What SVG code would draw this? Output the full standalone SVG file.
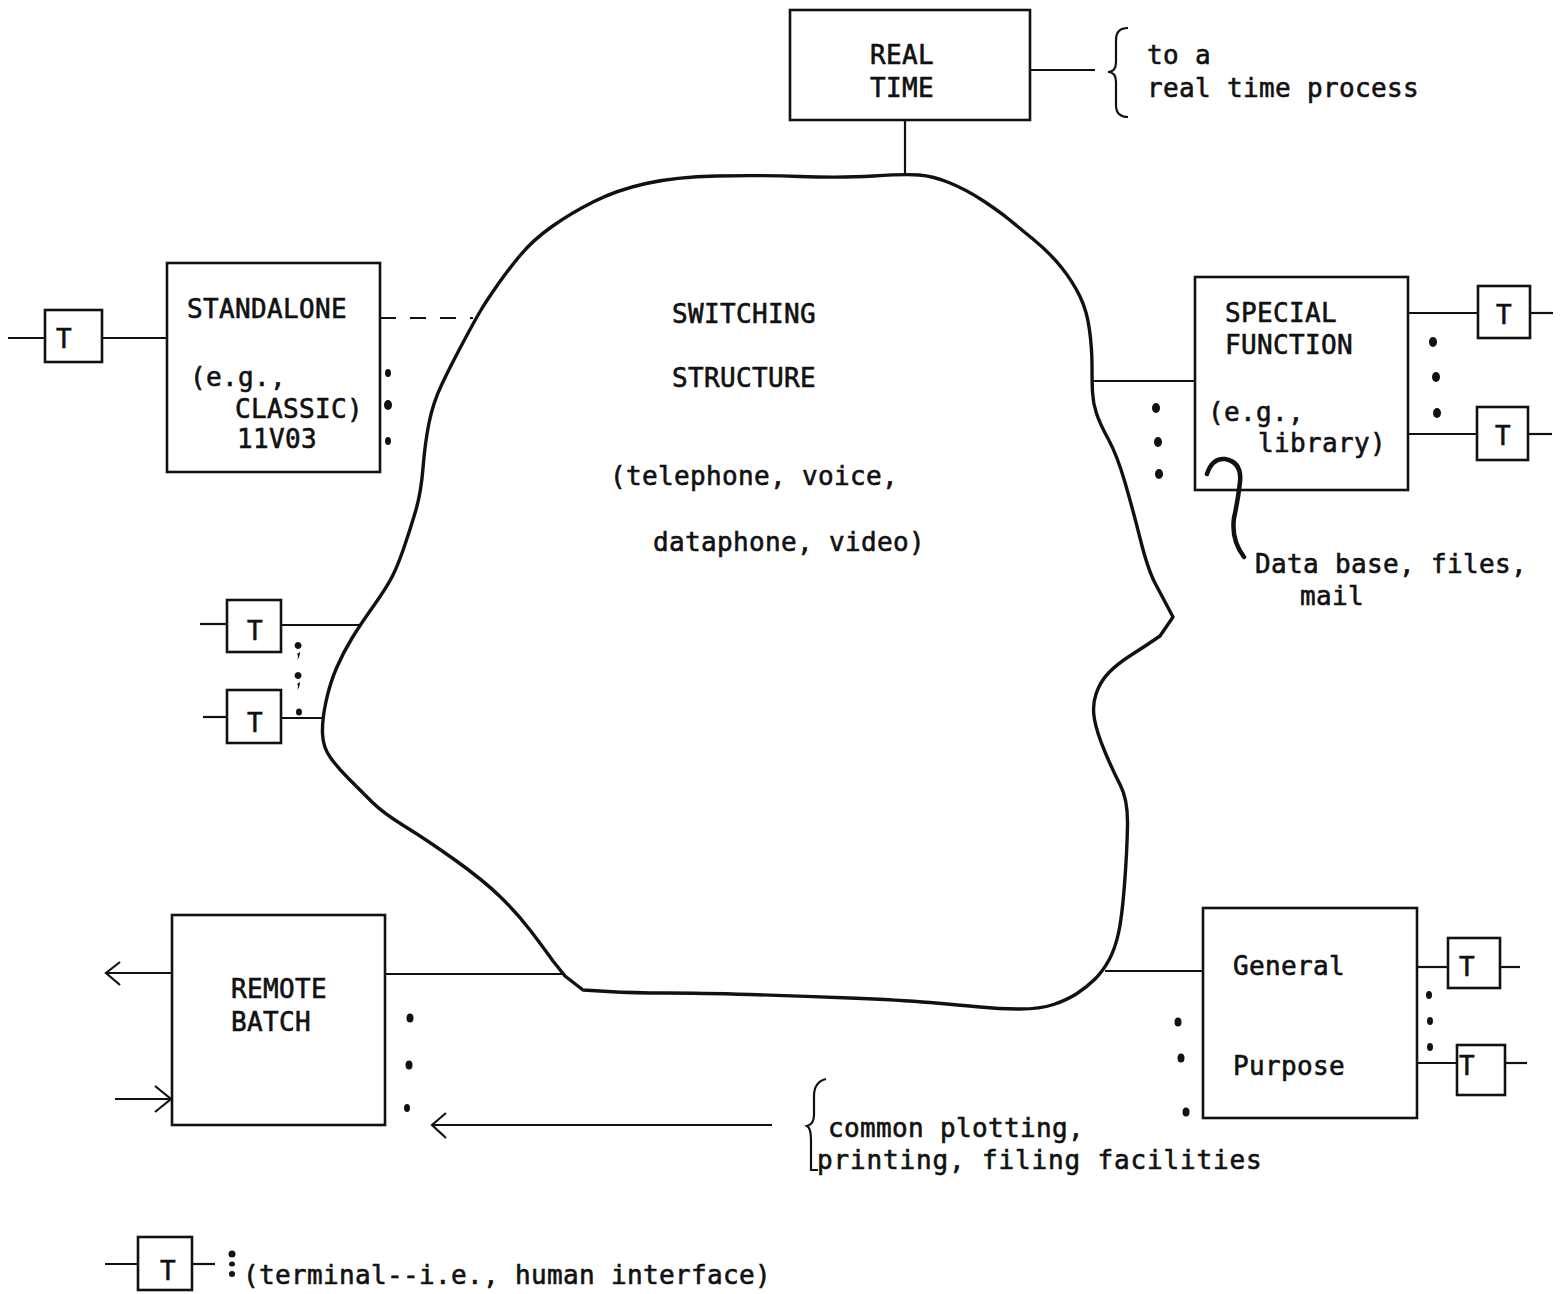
<svg xmlns="http://www.w3.org/2000/svg" width="1568" height="1294" viewBox="0 0 1568 1294">
<style>
.t{font-family:"DejaVu Sans Mono","Liberation Mono",monospace;font-size:26px;letter-spacing:0.35px;fill:#111;stroke:#111;stroke-width:0.6}
.tc{text-anchor:middle}
.box{fill:none;stroke:#111;stroke-width:2.6}
.ln{fill:none;stroke:#111;stroke-width:2.2}
.cl{fill:none;stroke:#111;stroke-width:3.4;stroke-linejoin:round;stroke-linecap:round}
.dot{fill:#111}
</style>
<rect width="1568" height="1294" fill="#fff"/>

<g id="switching-structure">
<path class="cl" d="M873.5,176 Q905,174 919,175 Q933,176 950,183 Q967,190 983.5,201 Q1000,212 1008.5,219 Q1017,226 1033.5,239.5 Q1050,253 1061.5,267.5 Q1073,282 1080,296.5 Q1087,311 1089.5,330 Q1092,349 1092,365 Q1092,381 1092.5,392 Q1093,403 1096.5,413.5 Q1100,424 1108.5,439.5 Q1117,455 1125,482.5 Q1133,510 1140.5,540 Q1148,570 1155.5,584 Q1163,598 1168,607.5 L1173,617 L1160,636 Q1147,645 1132,654.5 Q1117,664 1108.5,673 Q1100,682 1096,694 Q1092,706 1094.5,719.5 Q1097,733 1105,752 Q1113,771 1120.5,785.5 Q1128,800 1127.5,826 Q1127,852 1124.5,884.5 Q1122,917 1118.5,933 Q1115,949 1109,960 Q1103,971 1095,979 Q1087,987 1077,993.5 Q1067,1000 1053.5,1004.5 Q1040,1009 1020,1009 Q1000,1009 980,1007 Q960,1005 930,1002.5 Q900,1000 850,998 Q800,996 750,994.5 Q700,993 666.5,993 Q633,993 608,991.5 L583,990 L565,976 L553,961 Q543,947 530,930 Q517,913 500,896.5 Q483,880 455,860 Q427,840 405,826.5 Q383,813 371.5,801.5 Q360,790 348.5,778.5 Q337,767 330,757 Q323,747 322.5,733.5 Q322,720 326,701.5 Q330,683 336.5,668 Q343,653 351.5,639 Q360,625 373.5,606 Q387,587 392.5,576 Q398,565 404,547.5 Q410,530 415.5,511.5 Q421,493 423,468 Q425,443 429,423 Q433,403 441.5,385 Q450,367 462.5,343.5 Q475,320 481,310 Q487,300 497.5,285 Q508,270 520.5,255 Q533,240 552,226.5 Q571,213 594,201.5 Q617,190 646,183.5 Q675,177 716.5,176 Q758,175 800,176.5 Q842,178 873.5,176 Z"/>
<text class="t" x="672" y="323">SWITCHING</text>
<text class="t" x="672" y="387">STRUCTURE</text>
<text class="t" x="610" y="485">(telephone, voice,</text>
<text class="t" x="653" y="551">dataphone, video)</text>
</g>

<g id="real-time">
<rect class="box" x="790" y="10" width="240" height="110"/>
<text class="t" x="870" y="64">REAL</text>
<text class="t" x="870" y="97">TIME</text>
</g>

<g id="real-time-note">
<path class="ln" d="M1128,28 Q1116,28 1116,40 L1116,62 Q1116,72 1108,72 Q1116,72 1116,82 L1116,105 Q1116,117 1128,117"/>
<text class="t" x="1147" y="64">to a</text>
<text class="t" x="1147" y="97">real time process</text>
</g>

<g id="standalone">
<rect class="box" x="167" y="263" width="213" height="209"/>
<text class="t" x="187" y="318">STANDALONE</text>
<text class="t" x="190" y="386">(e.g.,</text>
<text class="t" x="235" y="418">CLASSIC)</text>
<text class="t" x="237" y="448">11V03</text>
</g>

<g id="special-function">
<rect class="box" x="1195" y="277" width="213" height="213"/>
<text class="t" x="1225" y="322">SPECIAL</text>
<text class="t" x="1225" y="354">FUNCTION</text>
<text class="t" x="1208" y="421">(e.g.,</text>
<text class="t" x="1258" y="452">library)</text>
</g>

<g id="data-base-note">
<path d="M1207,474 Q1212,458 1225,459 Q1242,462 1240,482 Q1238,500 1234,518 Q1231,540 1244,557" fill="none" stroke="#111" stroke-width="4.5" stroke-linecap="round"/>
<text class="t" x="1255" y="573">Data base, files,</text>
<text class="t" x="1300" y="605">mail</text>
</g>

<g id="remote-batch">
<rect class="box" x="172" y="915" width="213" height="210"/>
<text class="t" x="231" y="998">REMOTE</text>
<text class="t" x="231" y="1031">BATCH</text>
</g>

<g id="general-purpose">
<rect class="box" x="1203" y="908" width="214" height="210"/>
<text class="t" x="1233" y="975">General</text>
<text class="t" x="1233" y="1075">Purpose</text>
</g>

<g id="facilities-note">
<path class="ln" d="M826,1079 Q814,1082 814,1096 L814,1115 Q814,1124 807,1126 Q811,1128 811,1140 L811,1170 L818,1170"/>
<text class="t" x="828" y="1137">common plotting,</text>
<text class="t" x="817" y="1169" textLength="445" lengthAdjust="spacing">printing, filing facilities</text>
</g>

<g id="terminal-1">
<rect class="box" x="45" y="310" width="57" height="52"/>
<text class="t tc" x="64" y="348">T</text>
</g>
<g id="terminal-2">
<rect class="box" x="227" y="600" width="54" height="52"/>
<text class="t tc" x="255" y="640">T</text>
</g>
<g id="terminal-3">
<rect class="box" x="227" y="690" width="54" height="53"/>
<text class="t tc" x="255" y="732">T</text>
</g>
<g id="terminal-4">
<rect class="box" x="1478" y="286" width="52" height="52"/>
<text class="t tc" x="1504" y="324">T</text>
</g>
<g id="terminal-5">
<rect class="box" x="1477" y="407" width="51" height="53"/>
<text class="t tc" x="1503" y="445">T</text>
</g>
<g id="terminal-6">
<rect class="box" x="1448" y="938" width="52" height="50"/>
<text class="t tc" x="1467" y="976">T</text>
</g>
<g id="terminal-7">
<rect class="box" x="1457" y="1045" width="48" height="50"/>
<text class="t tc" x="1467" y="1075">T</text>
</g>

<g id="legend">
<line class="ln" x1="105" y1="1264" x2="138" y2="1264"/>
<rect class="box" x="138" y="1237" width="54" height="53"/>
<text class="t tc" x="168" y="1280">T</text>
<line class="ln" x1="192" y1="1264" x2="215" y2="1264"/>
<ellipse class="dot" cx="232" cy="1254" rx="3.5" ry="3.5"/>
<ellipse class="dot" cx="232" cy="1264" rx="3" ry="2.5"/>
<ellipse class="dot" cx="232" cy="1274" rx="3" ry="3"/>
<text class="t" x="243" y="1284">(terminal--i.e., human interface)</text>
</g>

<g id="connectors">
<line class="ln" x1="905" y1="120" x2="905" y2="175"/>
<line class="ln" x1="1030" y1="70" x2="1095" y2="70"/>
<line class="ln" x1="8" y1="338" x2="45" y2="338"/>
<line class="ln" x1="102" y1="338" x2="167" y2="338"/>
<line class="ln" x1="380" y1="318" x2="473" y2="318" stroke-dasharray="16,14"/>
<line class="ln" x1="200" y1="624" x2="227" y2="624"/>
<line class="ln" x1="281" y1="625" x2="361" y2="625"/>
<line class="ln" x1="203" y1="717" x2="227" y2="717"/>
<line class="ln" x1="281" y1="718" x2="323" y2="718"/>
<line class="ln" x1="1092" y1="381" x2="1195" y2="381"/>
<line class="ln" x1="1408" y1="313" x2="1478" y2="313"/>
<line class="ln" x1="1530" y1="313" x2="1553" y2="313"/>
<line class="ln" x1="1408" y1="434" x2="1477" y2="434"/>
<line class="ln" x1="1528" y1="434" x2="1552" y2="434"/>
<line class="ln" x1="385" y1="974" x2="565" y2="974"/>
<line class="ln" x1="105" y1="973" x2="172" y2="973"/>
<polyline class="ln" points="120,962 106,973 120,985"/>
<line class="ln" x1="115" y1="1099" x2="172" y2="1099"/>
<polyline class="ln" points="155,1086 171,1099 155,1112"/>
<line class="ln" x1="1105" y1="971" x2="1203" y2="971"/>
<line class="ln" x1="1417" y1="967" x2="1448" y2="967"/>
<line class="ln" x1="1500" y1="967" x2="1520" y2="967"/>
<line class="ln" x1="1417" y1="1063" x2="1457" y2="1063"/>
<line class="ln" x1="1505" y1="1063" x2="1527" y2="1063"/>
<line class="ln" x1="432" y1="1125" x2="772" y2="1125"/>
<polyline class="ln" points="446,1113 432,1125 446,1138"/>
</g>

<g id="ellipsis-dots">
<ellipse class="dot" cx="388" cy="373" rx="3" ry="4"/>
<ellipse class="dot" cx="388" cy="405" rx="4" ry="5"/>
<ellipse class="dot" cx="388" cy="441" rx="3" ry="4"/>
<path class="dot" d="M298,649 a3.5,3.5 0 1 1 0.1,0 Z M300,652 q0,5 -3,8 q2,-4 0,-6 Z"/>
<path class="dot" d="M298,679 a3.5,3.5 0 1 1 0.1,0 Z M300,682 q0,5 -3,8 q2,-4 0,-6 Z"/>
<ellipse class="dot" cx="299" cy="712" rx="3" ry="3.5"/>
<ellipse class="dot" cx="1156" cy="408" rx="4" ry="5"/>
<ellipse class="dot" cx="1158" cy="442" rx="4" ry="5"/>
<ellipse class="dot" cx="1159" cy="474" rx="4" ry="5"/>
<ellipse class="dot" cx="1433" cy="342" rx="4" ry="5"/>
<ellipse class="dot" cx="1436" cy="377" rx="4" ry="5"/>
<ellipse class="dot" cx="1437" cy="413" rx="4" ry="5"/>
<ellipse class="dot" cx="410" cy="1018" rx="3.5" ry="4.5"/>
<ellipse class="dot" cx="409" cy="1065" rx="3.5" ry="4.5"/>
<ellipse class="dot" cx="407" cy="1108" rx="3" ry="4"/>
<ellipse class="dot" cx="1178" cy="1022" rx="3.5" ry="4.5"/>
<ellipse class="dot" cx="1181" cy="1058" rx="3.5" ry="4.5"/>
<ellipse class="dot" cx="1186" cy="1112" rx="3.5" ry="4.5"/>
<ellipse class="dot" cx="1429" cy="995" rx="3" ry="4"/>
<ellipse class="dot" cx="1430" cy="1021" rx="3" ry="4"/>
<ellipse class="dot" cx="1430" cy="1047" rx="3" ry="4"/>
</g>
</svg>
